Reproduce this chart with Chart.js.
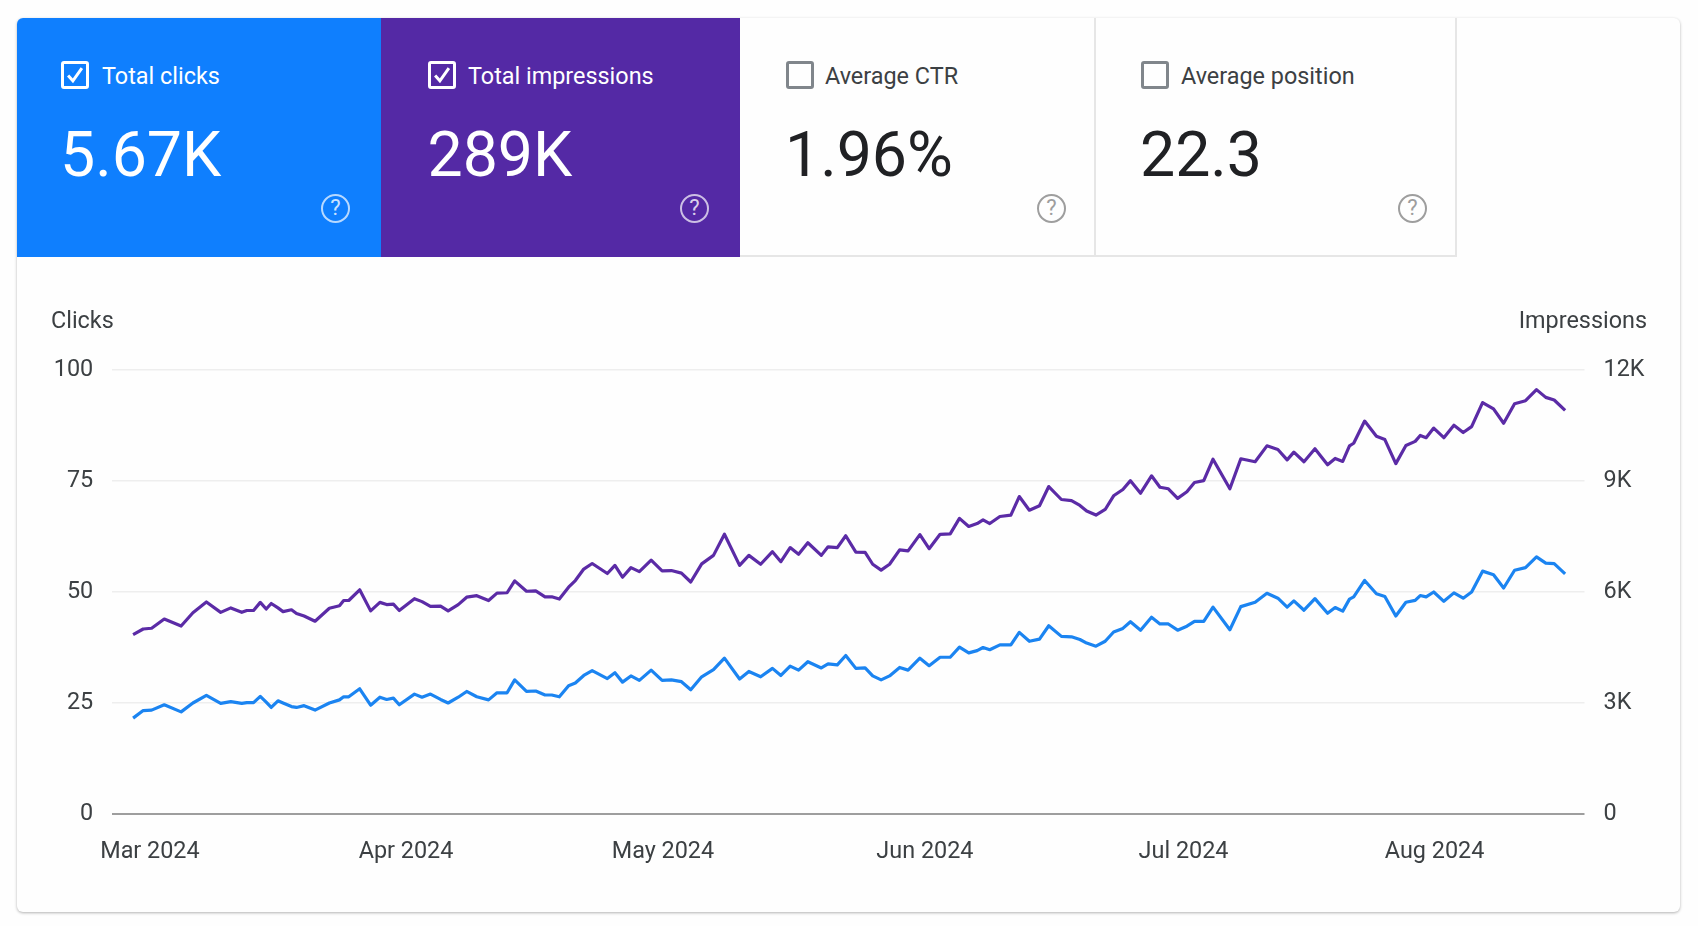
<!DOCTYPE html>
<html>
<head>
<meta charset="utf-8">
<title>Performance</title>
<script src="https://cdn.jsdelivr.net/npm/chart.js@4"></script>
<style>
    html, body { margin: 0; padding: 0; width: 1698px; height: 926px; background: #fefefe; overflow: hidden; font-family: Roboto, sans-serif; }
    #card { position: absolute; left: 17px; top: 18px; width: 1663px; height: 894px; background: #fefefe; border-radius: 6px; box-shadow: 0 1px 3px rgba(0,0,0,0.3); }
    #chart { position: absolute; left: 0; top: 0; }
    .tile { position: absolute; top: 18px; height: 239px; box-sizing: border-box; color: #202124; }
    .tile.on { color: #fff; }
    .tile.off { background: #fefefe; border-right: 2px solid #e6e6e6; border-bottom: 2px solid #e6e6e6; }
    #tileClicks { left: 17px; width: 364px; background: #0f7ffe; border-top-left-radius: 6px; }
    #tileImpr { left: 381px; width: 359px; background: #5429a5; }
    #tileCtr { left: 740px; width: 356px; }
    #tilePos { left: 1096px; width: 361px; }
    .box { position: absolute; top: 43px; width: 28px; height: 28px; box-sizing: border-box; border: 3px solid #80868b; border-radius: 3px; }
    .on .box { border-color: #fff; }
    .box svg { position: absolute; left: 2px; top: 2px; }
    .name { position: absolute; top: 44px; line-height: 28px; font-size: 23.4px; white-space: nowrap; color: #3c4043; }
    .on .name { color: #fff; }
    .big { position: absolute; top: 99px; line-height: 76px; font-size: 62.6px; white-space: nowrap; }
    .help { position: absolute; top: 176px; width: 29px; height: 29px; box-sizing: border-box; border: 2.5px solid #9e9e9e; border-radius: 50%; color: #9e9e9e; font-size: 22px; line-height: 24px; text-align: center; }
    .on .help { border-color: rgba(255,255,255,0.7); color: rgba(255,255,255,0.8); }
    .axisName { position: absolute; top: 306px; line-height: 28px; font-size: 23.4px; color: #3c4043; }
</style>
</head>
<body>
<div id="card"></div>
<canvas id="chart" width="1698" height="926"></canvas>

<div class="tile on" id="tileClicks">
    <div class="box" style="left:44px"><svg width="18" height="18" viewBox="0 0 17 17"><polyline points="2,9 6.5,14 15,2" fill="none" stroke="#fff" stroke-width="2.8"/></svg></div>
    <div class="name" style="left:85px">Total clicks</div>
    <div class="big" style="left:43px">5.67K</div>
    <div class="help" style="left:304px">?</div>
</div>
<div class="tile on" id="tileImpr">
    <div class="box" style="left:47px"><svg width="18" height="18" viewBox="0 0 17 17"><polyline points="2,9 6.5,14 15,2" fill="none" stroke="#fff" stroke-width="2.8"/></svg></div>
    <div class="name" style="left:87px">Total impressions</div>
    <div class="big" style="left:46.5px">289K</div>
    <div class="help" style="left:299px">?</div>
</div>
<div class="tile off" id="tileCtr">
    <div class="box" style="left:46px"></div>
    <div class="name" style="left:85px">Average CTR</div>
    <div class="big" style="left:45px">1.96%</div>
    <div class="help" style="left:297px">?</div>
</div>
<div class="tile off" id="tilePos">
    <div class="box" style="left:45px"></div>
    <div class="name" style="left:85px">Average position</div>
    <div class="big" style="left:44px">22.3</div>
    <div class="help" style="left:302px">?</div>
</div>

<div class="axisName" style="left:51px">Clicks</div>
<div class="axisName" style="right:51px">Impressions</div>

<script>
// days since the first plotted point
const days = [
    0, 1.2, 2.2, 3.7, 5.7, 7.1, 8.7, 10.4, 11.6, 12.9, 13.5, 14.3, 15.1, 15.8, 16.4, 17.2, 17.8, 18.8, 19.4, 20.3,
    21.6, 23.3, 24.5, 25, 25.6, 26.9, 28.2, 29.3, 30.1, 30.9, 31.6, 33.4, 34.3, 35.3, 36.5, 37.4, 38.6, 39.6, 40.8, 42.2,
    43.2, 44.4, 45.3, 46.7, 47.8, 48.9, 49.7, 50.6, 51.7, 52.5, 53.5, 54.5, 56.3, 57.2, 58.1, 59.1, 60.1, 61.5, 62.8, 63.9,
    65.1, 66.2, 67.5, 68.9, 70.2, 72, 73.1, 74.5, 75.9, 76.9, 78, 79, 80.1, 81.7, 82.5, 83.6, 84.6, 85.8, 86.9, 87.8,
    88.8, 89.8, 91, 92, 93.4, 94.5, 95.8, 97, 98.1, 99.2, 100.2, 100.9, 101.7, 102.9, 104.2, 105.2, 106.4, 107.6, 108.7, 110.2,
    111.4, 112.4, 113.2, 114.3, 115.4, 116.4, 117.5, 118.4, 119.6, 120.9, 121.9, 122.9, 124, 125.1, 126, 127.1, 128.2, 130.2, 131.5, 133.2,
    134.6, 135.9, 137, 137.8, 139, 140.3, 141.8, 142.7, 143.6, 144.4, 144.9, 146.2, 147.6, 148.6, 149.9, 151.1, 152.2, 152.8, 153.5, 154.4,
    155.6, 156.8, 157.9, 158.9, 160.2, 161.5, 162.7, 164, 165.3, 166.6, 167.7, 168.7, 170
];
const clicks = [
    21.6, 23.3, 23.4, 24.6, 23, 25, 26.7, 24.9, 25.3, 24.9, 25.1, 25.1, 26.5, 25.2, 24, 25.5, 25, 24.2, 24, 24.4,
    23.4, 25, 25.7, 26.4, 26.4, 28.2, 24.5, 26.3, 25.8, 26.1, 24.6, 27, 26.3, 27, 25.8, 25, 26.3, 27.6, 26.4, 25.7,
    27.3, 27.3, 30.2, 27.6, 27.7, 26.8, 26.8, 26.4, 28.9, 29.5, 31.2, 32.3, 30.5, 31.8, 29.7, 31.1, 30.1, 32.4, 30.1, 30.2,
    29.8, 28, 30.9, 32.5, 35.1, 30.4, 32.1, 30.9, 32.8, 31.2, 33.3, 32.4, 34.3, 32.9, 33.8, 33.6, 35.7, 32.8, 32.9, 31.1,
    30.2, 31.1, 33, 32.4, 35.1, 33.4, 35.3, 35.3, 37.6, 36.3, 36.8, 37.5, 37, 38.1, 38.1, 40.9, 38.9, 39.4, 42.4, 40,
    39.9, 39.3, 38.5, 37.8, 38.9, 41, 41.8, 43.3, 41.4, 44.3, 42.8, 42.8, 41.4, 42.3, 43.4, 43.4, 46.6, 41.5, 46.7, 47.7,
    49.7, 48.6, 46.6, 48, 45.9, 48.5, 45.2, 46.5, 45.7, 48.4, 48.9, 52.6, 49.6, 49, 44.6, 47.7, 48.1, 49.2, 48.9, 50,
    47.9, 49.8, 48.6, 50, 54.7, 53.9, 50.9, 54.9, 55.5, 57.9, 56.5, 56.4, 54.1
];
const impressions = [
    4850, 5000, 5020, 5270, 5080, 5440, 5730, 5450, 5570, 5450, 5500, 5500, 5720, 5540, 5690, 5570, 5470, 5520, 5420, 5350,
    5210, 5560, 5630, 5770, 5770, 6060, 5490, 5720, 5660, 5670, 5500, 5820, 5740, 5610, 5620, 5490, 5660, 5860, 5900, 5770,
    5970, 5980, 6300, 6020, 6030, 5870, 5870, 5810, 6130, 6310, 6620, 6770, 6500, 6720, 6400, 6660, 6550, 6860, 6570, 6580,
    6510, 6270, 6760, 6990, 7560, 6720, 6990, 6750, 7090, 6820, 7200, 7020, 7330, 6990, 7220, 7200, 7520, 7080, 7070, 6750,
    6590, 6750, 7140, 7110, 7550, 7170, 7560, 7570, 7990, 7770, 7850, 7950, 7850, 8040, 8080, 8580, 8210, 8330, 8850, 8500,
    8470, 8340, 8190, 8080, 8230, 8600, 8770, 9010, 8670, 9140, 8830, 8790, 8530, 8710, 8960, 9010, 9590, 8790, 9600, 9520,
    9950, 9850, 9570, 9780, 9520, 9870, 9440, 9610, 9530, 9950, 10020, 10620, 10210, 10120, 9470, 9960, 10070, 10230, 10170, 10430,
    10170, 10510, 10310, 10470, 11120, 10950, 10560, 11090, 11170, 11470, 11260, 11190, 10910
];
const monthDays = [2, 32.4, 62.9, 94, 124.7, 154.5];
const monthLabels = ['Mar 2024', 'Apr 2024', 'May 2024', 'Jun 2024', 'Jul 2024', 'Aug 2024'];

const tickFont = { family: 'Roboto', size: 23.4 };
const tickColor = '#3c4043';

new Chart(document.getElementById('chart'), {
    type: 'line',
    data: {
        datasets: [
            {
                data: impressions.map((v, i) => ({ x: days[i], y: v })),
                yAxisID: 'yRight',
                borderColor: '#5b2ba6',
                borderWidth: 3.2,
                pointRadius: 0,
                tension: 0,
                borderJoinStyle: 'round'
            },
            {
                data: clicks.map((v, i) => ({ x: days[i], y: v })),
                yAxisID: 'yLeft',
                borderColor: '#1b84f1',
                borderWidth: 3.2,
                pointRadius: 0,
                tension: 0,
                borderJoinStyle: 'round'
            }
        ]
    },
    options: {
        responsive: false,
        animation: false,
        layout: { padding: { top: 370 } },
        plugins: { legend: { display: false }, tooltip: { enabled: false } },
        scales: {
            x: {
                type: 'linear',
                min: -2.48,
                max: 172.3,
                afterBuildTicks: scale => { scale.ticks = monthDays.map(d => ({ value: d })); },
                afterFit: scale => { scale.height = 112; },
                grid: { display: false },
                border: { display: false },
                ticks: {
                    autoSkip: false,
                    maxRotation: 0,
                    padding: 16.5,
                    font: tickFont,
                    color: tickColor,
                    callback: (value, i) => monthLabels[i]
                }
            },
            yLeft: {
                position: 'left',
                min: 0,
                max: 100,
                afterFit: scale => { scale.width = 112.2; },
                grid: {
                    drawTicks: false,
                    lineWidth: ctx => ctx.tick.value === 0 ? 2 : 1.5,
                    color: ctx => ctx.tick.value === 0 ? '#9e9e9e' : '#eeeeee'
                },
                border: { display: false },
                ticks: { stepSize: 25, padding: 19, font: tickFont, color: tickColor }
            },
            yRight: {
                position: 'right',
                min: 0,
                max: 12000,
                afterFit: scale => { scale.width = 113.5; },
                grid: { display: false, drawTicks: false },
                border: { display: false },
                ticks: {
                    stepSize: 3000,
                    padding: 19,
                    font: tickFont,
                    color: tickColor,
                    callback: v => v === 0 ? '0' : (v / 1000) + 'K'
                }
            }
        }
    }
});
</script>
</body>
</html>
